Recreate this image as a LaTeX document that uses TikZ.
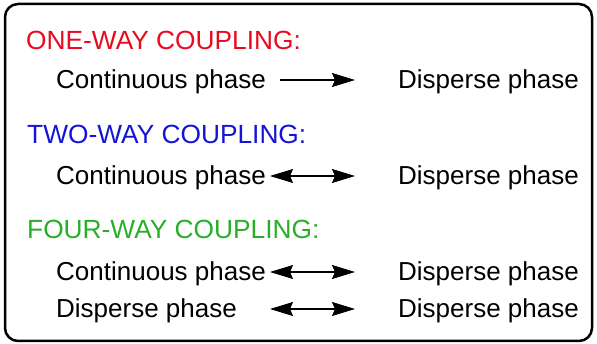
\documentclass[tikz,border=0pt]{standalone}
\usepackage{fontspec}
\setmainfont{Liberation Sans}
\usetikzlibrary{arrows.meta}
\definecolor{cred}{RGB}{232,10,30}
\definecolor{cblue}{RGB}{20,20,215}
\definecolor{cgreen}{RGB}{40,175,40}
\tikzset{
  txt/.style={anchor=base west, inner sep=0pt, font=\fontsize{26}{30}\selectfont},
  ttl/.style={anchor=base west, inner sep=0pt, font=\fontsize{26.3}{30}\selectfont},
  tip/.tip={Stealth[length=23pt,width=14pt,inset=3pt]},
  conn/.style={line width=1.4pt, tip-tip},
  oneconn/.style={line width=1.4pt, -tip},
}
\begin{document}
\begin{tikzpicture}[x=1pt,y=-1pt]
\useasboundingbox (0,0) rectangle (597,344);
\draw[line width=2.5pt, rounded corners=13pt] (5,4) rectangle (592,341);
\node[ttl, text=cred] (t1) at (26,50) {ONE-WAY COUPLING:};
\node[txt] (c1) at (56,89) {Continuous phase};
\node[txt] (d1) at (398,89) {Disperse phase};
\coordinate (a1s) at (280,80);
\coordinate (a1e) at (355,80);
\draw[oneconn] (a1s) -- (a1e);

\node[ttl, text=cblue] (t2) at (27,144) {TWO-WAY COUPLING:};
\node[txt] (c2) at (56,185) {Continuous phase};
\node[txt] (d2) at (398,185) {Disperse phase};
\coordinate (a2s) at (270,176);
\coordinate (a2e) at (355,176);
\draw[conn] (a2s) -- (a2e);

\node[ttl, text=cgreen] (t3) at (27,239) {FOUR-WAY COUPLING:};
\node[txt] (c3) at (56,281) {Continuous phase};
\node[txt] (d3) at (398,281) {Disperse phase};
\coordinate (a3s) at (270,272);
\coordinate (a3e) at (355,272);
\draw[conn] (a3s) -- (a3e);

\node[txt] (c4) at (56,318) {Disperse phase};
\node[txt] (d4) at (398,318) {Disperse phase};
\coordinate (a4s) at (270,309);
\coordinate (a4e) at (355,309);
\draw[conn] (a4s) -- (a4e);
\end{tikzpicture}
\end{document}
